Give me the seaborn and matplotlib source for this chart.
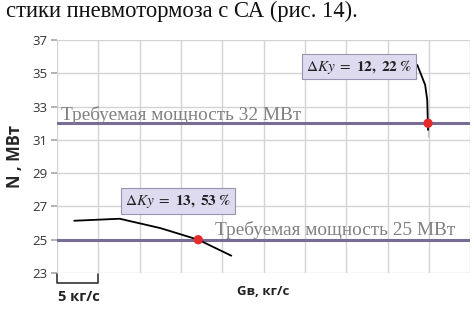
import matplotlib
matplotlib.use("Agg")
import matplotlib.pyplot as plt
import seaborn as sns
import pandas as pd

# curve near 25 MW requirement (Gв in kg/s, N in MW)
g_low = [2.1, 7.6, 12.5, 17.1, 21.1]
n_low = [26.14, 26.26, 25.7, 25.0, 24.04]
# curve near 32 MW requirement
g_high = [43.6, 44.55, 44.8, 44.9, 44.9]
n_high = [35.5, 34.3, 33.4, 32.0, 31.2]

req_levels = [32, 25]
req_labels = ["Требуемая мощность 32 МВт", "Требуемая мощность 25 МВт"]
cross_g = [44.9, 17.1]
cross_n = [32.0, 25.0]
dk_values = ["12,\\ 22\\ \\%", "13,\\ 53\\ \\%"]

yticks = [23, 25, 27, 29, 31, 33, 35, 37]

sns.set_theme(style="white")
plt.rcParams['font.family'] = ['Open Sans', 'DejaVu Sans']
plt.rcParams['mathtext.fontset'] = 'stix'

fig = plt.figure(figsize=(4.74, 3.09), dpi=100)
ax = fig.add_axes([0.120, 0.1165, 0.872, 0.754])

fig.text(0.012, 0.998, "стики пневмотормоза с СА (рис. 14).", ha="left", va="top",
         fontsize=16.3, family=["Liberation Serif"], color="#111111")

ax.set_xlim(0, 50)
ax.set_ylim(23, 37)
ax.set_xticks(range(0, 51, 5))
ax.set_xticklabels([])
ax.set_yticks(yticks)
ax.set_yticklabels([str(v) for v in yticks], fontsize=9.5, color="#333333")
ax.grid(True, color="#d4d4d4", linewidth=1)
for s in ax.spines.values():
    s.set_visible(False)
ax.tick_params(axis="y", length=4, color="#aaaaaa", pad=3, left=True)
ax.tick_params(axis="x", length=0)

for lvl in req_levels:
    ax.axhline(lvl, color="#776c93", linewidth=2.2, zorder=2)

ax.text(0.5, 32.22, req_labels[0], fontsize=13.9, family=["Liberation Serif"],
        color="#808080", ha="left", va="baseline")
ax.text(19.1, 25.3, req_labels[1], fontsize=13.9, family=["Liberation Serif"],
        color="#808080", ha="left", va="baseline")

low = pd.DataFrame({"g": g_low, "n": n_low})
high = pd.DataFrame({"g": g_high, "n": n_high})
sns.lineplot(data=low, x="g", y="n", ax=ax, color="black", linewidth=1.3, sort=False, zorder=3)
sns.lineplot(data=high, x="g", y="n", ax=ax, color="black", linewidth=1.3, sort=False, zorder=3)
sns.scatterplot(x=cross_g, y=cross_n, ax=ax, color="#e32b2b", s=45, edgecolor="none", zorder=4)

box = dict(boxstyle="square,pad=0.25", facecolor="#dedaf0", edgecolor="#9a94b3", linewidth=0.8)
ax.text(36.6, 35.4, r"$\Delta Ky\ =\ \mathbf{" + dk_values[0] + "}$", fontsize=11,
        ha="center", va="center", bbox=box, color="#222222")
ax.text(14.65, 27.34, r"$\Delta Ky\ =\ \mathbf{" + dk_values[1] + "}$", fontsize=11,
        ha="center", va="center", bbox=box, color="#222222")

ax.set_xlabel("")
ax.set_ylabel("N , МВт", fontsize=12, fontweight="bold", labelpad=6)

# scale bracket for one grid step
ax.plot([0, 0, 5, 5], [22.95, 22.4, 22.4, 22.95], color="#333333", linewidth=1.2,
        clip_on=False)
fig.text(0.123, 0.039, "5 кг/с", fontsize=10.5, fontweight="bold", ha="left", va="center", color="#222222")
fig.text(0.555, 0.058, "Gв, кг/с", fontsize=9.5, fontweight="bold", ha="center", va="center", color="#222222")

fig.savefig("out.png", dpi=100)
